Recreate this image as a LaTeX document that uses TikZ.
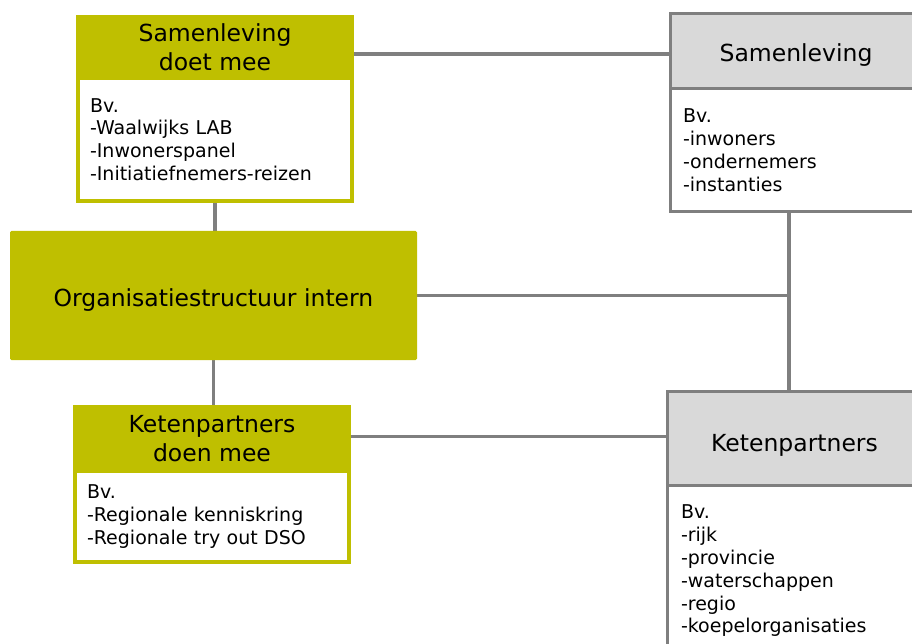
\documentclass[tikz,border=0pt]{standalone}
\usepackage{fontspec}
\setmainfont{DejaVu Sans}
\usetikzlibrary{calc,backgrounds}
\definecolor{olijf}{RGB}{191,191,0}
\definecolor{lijngrijs}{RGB}{127,127,127}
\definecolor{kopgrijs}{RGB}{217,217,217}
\tikzset{
	kop/.style={draw=olijf, fill=olijf, line width=4pt, outer sep=0pt, minimum width=274pt, inner sep=0pt, align=center, font=\fontsize{23.5}{29}\selectfont},
	inhoud/.style={draw=olijf, fill=white, line width=4pt, outer sep=0pt, text width=250pt, inner xsep=12pt, inner ysep=0pt, align=left, font=\fontsize{19}{22.6}\selectfont},
	grijskop/.style={draw=lijngrijs, fill=kopgrijs, line width=3pt, outer sep=0pt, inner sep=0pt, text depth=0pt, font=\fontsize{23.5}{29}\selectfont},
	grijsinhoud/.style={draw=lijngrijs, fill=white, line width=3pt, outer sep=0pt, inner ysep=0pt, align=left, font=\fontsize{19}{22.8}\selectfont},
	verbinding/.style={draw=lijngrijs, line width=3.5pt}
}

\begin{document}
\begin{tikzpicture}[x=1pt, y=-1pt]
			%%%%% START %%%%%
			\useasboundingbox (0, 0) rectangle (912, 644);
			\clip (0, 0) rectangle (912, 644);
			
			% links boven
			\node[kop, minimum height=61pt, anchor=north] (sdm) at (215, 17) {Samenleving\\doet mee};
			\node[inhoud, minimum height=123pt, anchor=north] (sdmb) at (sdm.south) {Bv.\\-Waalwijks LAB\\-Inwonerspanel\\-Initiatiefnemers-reizen};
			
			% midden
			\node[fill=olijf, rounded corners=1.5pt, minimum width=407pt, minimum height=129pt, text height=22.4pt, text depth=0pt, font=\fontsize{23.5}{29}\selectfont] (org) at (213.5, 295.5) {Organisatiestructuur intern};
			
			% links onder
			\node[kop, minimum height=64pt, anchor=north] (kdm) at (212, 407) {Ketenpartners\\doen mee};
			\node[inhoud, minimum height=91pt, anchor=north] (kdmb) at (kdm.south) {Bv.\\-Regionale kenniskring\\-Regionale try out DSO};
			
			% rechts boven
			\node[grijskop, text height=20.4pt, minimum width=251pt, minimum height=75.5pt, anchor=north] (sam) at (796, 13.5) {Samenleving};
			\node[grijsinhoud, text width=226pt, inner xsep=12.5pt, minimum height=122.5pt, anchor=north] (samb) at (sam.south) {Bv.\\-inwoners\\-ondernemers\\-instanties};
			
			% rechts onder
			\node[grijskop, text height=26.4pt, minimum width=254pt, minimum height=93.5pt, anchor=north] (kp) at (794.5, 391.5) {Ketenpartners};
			\node[grijsinhoud, text width=227pt, inner xsep=13.5pt, minimum height=172pt, anchor=north] (kpb) at (kp.south) {Bv.\\-rijk\\-provincie\\-waterschappen\\-regio\\-koepelorganisaties};
			
			% lijnen
			\coordinate (knoop) at (789, 297);
			\begin{scope}[on background layer]
				\draw[verbinding] (sdmb.south) -- (sdmb.south |- org.north);
				\draw[verbinding] (org.south) -- (org.south |- kdm.north);
				\draw[verbinding] ([yshift=-3pt]sam.west) -- ([yshift=-3pt]sam.west -| sdm.east);
				\draw[verbinding] (samb.south -| knoop) -- (kp.north -| knoop);
				\draw[verbinding] (org.east) -- ([xshift=1.75pt]org.east -| knoop);
				\draw[verbinding] ([yshift=2pt]kp.west) -- ([yshift=2pt]kp.west -| kdm.east);
			\end{scope}
			
			%%%%% END %%%%%
\end{tikzpicture}
\end{document}
